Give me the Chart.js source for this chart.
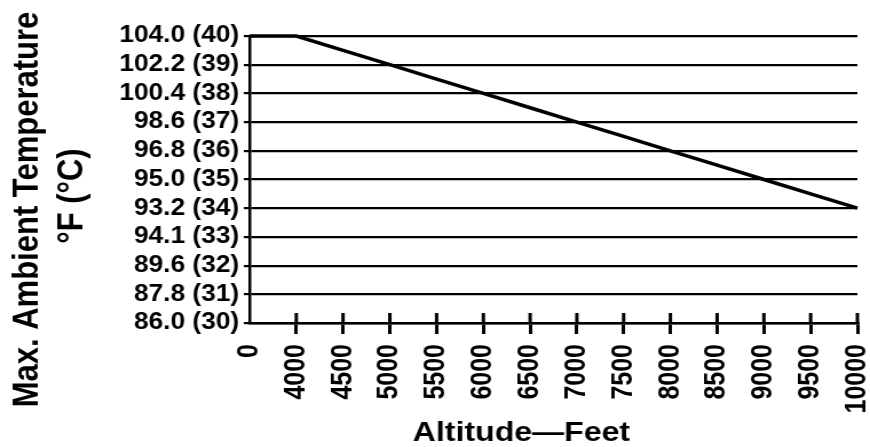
<!DOCTYPE html>
<html>
<head>
<meta charset="utf-8">
<script src="https://cdn.jsdelivr.net/npm/chart.js@4.4.1/dist/chart.umd.min.js"></script>
<style>
  html, body { margin: 0; padding: 0; background: #fff; overflow: hidden; }
</style>
</head>
<body>
<!-- 元画像は横に引き伸ばされているので、狭いキャンバスを CSS で 870px に広げる -->
<canvas id="chart" width="760" height="447" style="width:870px;height:447px;display:block"></canvas>
<script>
// ===== データ =====
const altitudeLabels = ['0', '4000', '4500', '5000', '5500', '6000', '6500',
                        '7000', '7500', '8000', '8500', '9000', '9500', '10000'];
const maxTempC = [40, 40, 39.5, 39, 38.5, 38, 37.5, 37, 36.5, 36, 35.5, 35, 34.5, 34];

const tempTicksC = [30, 31, 32, 33, 34, 35, 36, 37, 38, 39, 40];
const tempTickLabels = ['86.0 (30)', '87.8 (31)', '89.6 (32)', '94.1 (33)', '93.2 (34)', '95.0 (35)',
                        '96.8 (36)', '98.6 (37)', '100.4 (38)', '102.2 (39)', '104.0 (40)'];

const yTitleLines = ['Max. Ambient Temperature', '°F (°C)'];
const xTitle = 'Altitude—Feet';

const FONT = '"Liberation Sans", Arial, Helvetica, sans-serif';

// ===== タイトルと軸の内側の目盛り =====
const extras = {
  id: 'extras',
  afterDraw(chart) {
    const { ctx, scales: { x } } = chart;
    ctx.save();

    // x 軸の目盛りは軸線をまたぐ
    ctx.strokeStyle = '#000';
    ctx.lineWidth = 3;
    x.ticks.forEach((t, i) => {
      if (i === 0) return;
      const px = x.getPixelForTick(i);
      ctx.beginPath();
      ctx.moveTo(px, x.top);
      ctx.lineTo(px, x.top - 10);
      ctx.stroke();
    });

    ctx.fillStyle = '#000';
    ctx.textAlign = 'center';
    ctx.textBaseline = 'alphabetic';

    ctx.font = `bold 28px ${FONT}`;
    ctx.fillText(xTitle, 455.5, 441);

    ctx.font = `bold 31px ${FONT}`;
    [[33, 209.5], [72, 196]].forEach(([bx, cy], i) => {
      ctx.save();
      ctx.translate(bx, cy);
      ctx.rotate(-Math.PI / 2);
      ctx.fillText(yTitleLines[i], 0, 0);
      ctx.restore();
    });

    ctx.restore();
  }
};

new Chart(document.getElementById('chart'), {
  type: 'line',
  data: {
    labels: altitudeLabels,
    datasets: [{
      data: maxTempC,
      borderColor: '#000',
      borderWidth: 3.5,
      pointRadius: 0,
      tension: 0,
      clip: false,
    }]
  },
  options: {
    responsive: false,
    animation: false,
    devicePixelRatio: 1,
    layout: { padding: { top: 36, right: 11, bottom: 0, left: 0 } },
    plugins: { legend: { display: false }, tooltip: { enabled: false } },
    scales: {
      x: {
        type: 'category',
        offset: false,
        afterFit: s => { s.height = 124; s.paddingLeft = 0; s.paddingRight = 0; },
        ticks: {
          autoSkip: false,
          minRotation: 90,
          maxRotation: 90,
          padding: 10,
          color: '#000',
          font: { family: FONT, size: 25, weight: 'bold' },
        },
        grid: {
          drawOnChartArea: false,
          tickLength: 11,
          lineWidth: 3,
          color: '#000',
          tickColor: c => c.index === 0 ? 'rgba(0,0,0,0)' : '#000',
        },
        border: { color: '#000', width: 2.5 },
      },
      y: {
        type: 'linear',
        min: 30,
        max: 40,
        afterFit: s => { s.width = 218; s.paddingTop = 0; s.paddingBottom = 0; },
        afterBuildTicks: s => { s.ticks = tempTicksC.map(v => ({ value: v })); },
        ticks: {
          autoSkip: false,
          padding: 4,
          color: '#000',
          font: { family: FONT, size: 23, weight: 'bold' },
          callback: v => tempTickLabels[tempTicksC.indexOf(v)],
        },
        grid: { color: '#000', lineWidth: 2.2, tickLength: 5 },
        border: { color: '#000', width: 2.5 },
      }
    }
  },
  plugins: [extras]
});
</script>
</body>
</html>
